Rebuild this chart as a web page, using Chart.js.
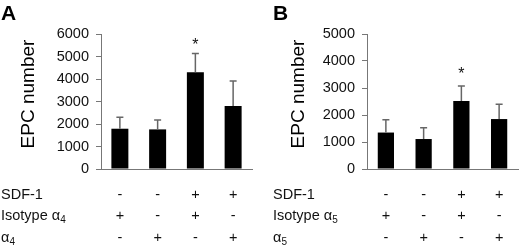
<!DOCTYPE html>
<html>
<head>
<meta charset="utf-8">
<script src="https://cdn.jsdelivr.net/npm/chart.js@4.4.1/dist/chart.umd.min.js"></script>
<style>
  body { margin: 0; background: #fff; }
  .panel { position: absolute; top: 0; width: 260px; height: 246px; }
</style>
</head>
<body>
<div class="panel" style="left:0"><canvas id="chartA" width="260" height="246"></canvas></div>
<div class="panel" style="left:260px"><canvas id="chartB" width="260" height="246"></canvas></div>
<script>
// Data
const categories = ['1', '2', '3', '4'];
const epcA = [1790, 1760, 4300, 2800];
const errA = [510, 420, 830, 1110];
const epcB = [1350, 1110, 2520, 1850];
const errB = [470, 420, 550, 550];
const significant = [false, false, true, false];
const yTicksA = [0, 1000, 2000, 3000, 4000, 5000, 6000];
const yTicksB = [0, 1000, 2000, 3000, 4000, 5000];

// treatment table under the bars
const sdf1 = ['-', '-', '+', '+'];
const isotype = ['+', '-', '+', '-'];
const blocking = ['-', '+', '-', '+'];

const FONT = 'Arial, "Liberation Sans", sans-serif';
const ROWS_Y = [199, 220, 242];

// draws error bars, asterisks and all the extra text of a panel
function panelPlugin(cfg) {
    return {
        id: 'panelExtras',
        afterDatasetsDraw(chart) {
            const ctx = chart.ctx;
            const x = chart.scales.x, y = chart.scales.y;
            ctx.save();
            ctx.strokeStyle = '#666';
            ctx.lineWidth = 1.5;
            cfg.values.forEach((v, i) => {
                const cx = x.getPixelForValue(i);
                const yTop = y.getPixelForValue(v + cfg.errors[i]);
                const yBar = y.getPixelForValue(v);
                ctx.beginPath();
                ctx.moveTo(cx, yBar);
                ctx.lineTo(cx, yTop);
                ctx.moveTo(cx - 3.5, yTop);
                ctx.lineTo(cx + 3.5, yTop);
                ctx.stroke();
                if (significant[i]) {
                    ctx.fillStyle = '#111';
                    ctx.font = '16px ' + FONT;
                    ctx.textAlign = 'center';
                    ctx.textBaseline = 'alphabetic';
                    ctx.fillText('*', cx, yTop - cfg.starGap);
                }
            });
            ctx.restore();
        },
        afterDraw(chart) {
            const ctx = chart.ctx;
            const x = chart.scales.x;
            ctx.save();
            ctx.fillStyle = '#000';

            // panel letter
            ctx.font = 'bold 21px ' + FONT;
            ctx.textAlign = 'left';
            ctx.textBaseline = 'alphabetic';
            ctx.fillText(cfg.letter, cfg.letterX, 20);

            // y title
            ctx.save();
            ctx.translate(cfg.titleX, 94);
            ctx.rotate(-Math.PI / 2);
            ctx.font = '19px ' + FONT;
            ctx.textAlign = 'center';
            ctx.textBaseline = 'middle';
            ctx.fillText('EPC number', 0, 0);
            ctx.restore();

            // treatment rows
            ctx.font = '14.5px ' + FONT;
            ctx.fillStyle = '#111';
            ctx.textAlign = 'left';
            ctx.fillText('SDF-1', cfg.rowX, ROWS_Y[0]);
            ctx.fillText('Isotype \u03b1', cfg.rowX, ROWS_Y[1]);
            let w = ctx.measureText('Isotype \u03b1').width;
            ctx.font = '10px ' + FONT;
            ctx.fillText(cfg.sub, cfg.rowX + w, ROWS_Y[1] + 3);
            ctx.font = '14.5px ' + FONT;
            ctx.fillText('\u03b1', cfg.rowX, ROWS_Y[2]);
            w = ctx.measureText('\u03b1').width;
            ctx.font = '10px ' + FONT;
            ctx.fillText(cfg.sub, cfg.rowX + w, ROWS_Y[2] + 3);

            ctx.font = '14.5px ' + FONT;
            ctx.textAlign = 'center';
            [sdf1, isotype, blocking].forEach((row, r) => {
                row.forEach((s, i) => {
                    ctx.fillText(s, x.getPixelForValue(i), ROWS_Y[r]);
                });
            });
            ctx.restore();
        }
    };
}

function makeChart(id, cfg) {
    return new Chart(document.getElementById(id), {
        type: 'bar',
        data: {
            labels: categories,
            datasets: [{
                data: cfg.values,
                backgroundColor: '#000',
                borderWidth: 0,
                barPercentage: 0.9,
                categoryPercentage: cfg.barFrac / 0.9
            }]
        },
        options: {
            responsive: false,
            animation: false,
            layout: { padding: { top: 34, right: cfg.padRight, bottom: 0, left: 0 } },
            plugins: { legend: { display: false }, tooltip: { enabled: false } },
            scales: {
                x: {
                    grid: { display: false },
                    border: { color: '#777', width: 1 },
                    ticks: { display: false },
                    afterFit(s) { s.height = 77; }
                },
                y: {
                    min: 0,
                    max: cfg.ticks[cfg.ticks.length - 1],
                    afterBuildTicks(s) { s.ticks = cfg.ticks.map(v => ({ value: v })); },
                    grid: { drawOnChartArea: false, drawTicks: true, tickLength: 5, color: '#777' },
                    border: { color: '#777', width: 1 },
                    ticks: {
                        color: '#111', padding: 7,
                        font: { family: FONT, size: 14.5 },
                        callback: v => String(v)
                    },
                    afterFit(s) { s.width = cfg.axisLeft; }
                }
            }
        },
        plugins: [panelPlugin(cfg)]
    });
}

makeChart('chartA', {
    values: epcA, errors: errA, ticks: yTicksA,
    axisLeft: 101, padRight: 8, barFrac: 0.45, starGap: 4,
    letter: 'A', letterX: 1, titleX: 29, rowX: 1, sub: '4'
});
makeChart('chartB', {
    values: epcB, errors: errB, ticks: yTicksB,
    axisLeft: 107, padRight: 2, barFrac: 0.43, starGap: 7,
    letter: 'B', letterX: 13, titleX: 39, rowX: 13, sub: '5'
});
</script>
</body>
</html>
